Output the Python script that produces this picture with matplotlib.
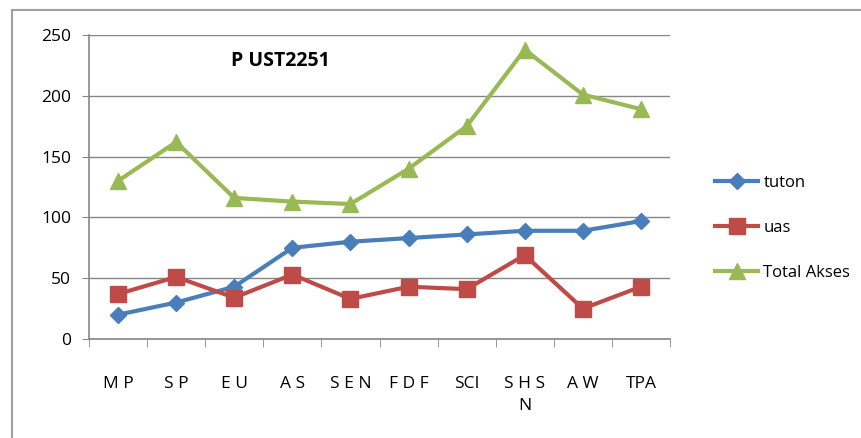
import matplotlib.pyplot as plt
from matplotlib.patches import Rectangle

categories = ['M P', 'S P', 'E U', 'A S', 'S E N', 'F D F', 'SCI', 'S H S\nN', 'A W', 'TPA']
tuton = [20, 30, 43, 75, 80, 83, 86, 89, 89, 97]
uas = [37, 51, 34, 53, 33, 43, 41, 69, 25, 43]
total_akses = [130, 162, 116, 113, 111, 140, 175, 238, 201, 189]

plt.rcParams['font.family'] = ['Open Sans', 'DejaVu Sans']

fig = plt.figure(figsize=(8.62, 4.38), dpi=100)
# outer chart border (cut off on the right and bottom like the screenshot)
fig.patches.append(Rectangle((12 / 862, -0.1), 1.2, 1 - 10 / 438 + 0.1,
                             transform=fig.transFigure, fill=False,
                             edgecolor='#a0a0a0', linewidth=1.5))

ax = fig.add_axes([89 / 862, 1 - 339 / 438, 581 / 862, 304 / 438])
x = range(len(categories))
ax.plot(x, tuton, color='#4a7ebb', linewidth=3, marker='D', markersize=8, label='tuton')
ax.plot(x, uas, color='#be4b48', linewidth=3, marker='s', markersize=11, label='uas')
ax.plot(x, total_akses, color='#98b954', linewidth=3, marker='^', markersize=11, label='Total Akses')

ax.set_xlim(-0.5, len(categories) - 0.5)
ax.set_ylim(0, 250)
ax.set_yticks([0, 50, 100, 150, 200, 250])
ax.set_xticks(x)
ax.set_xticklabels(categories, fontsize=12.5, linespacing=1.5)
ax.set_xticks([i - 0.5 for i in range(len(categories) + 1)], minor=True)
ax.tick_params(axis='x', which='major', length=0, pad=27)
ax.tick_params(axis='x', which='minor', length=6, color='#868686')
ax.tick_params(axis='y', labelsize=12.5, length=5, color='#868686', pad=8)
ax.yaxis.grid(True, color='#868686', linewidth=1)
ax.set_axisbelow(True)
for s in ['top', 'right']:
    ax.spines[s].set_visible(False)
for s in ['left', 'bottom']:
    ax.spines[s].set_color('#868686')
    ax.spines[s].set_linewidth(1.2)

ax.text(0.33, 0.915, 'P UST2251', transform=ax.transAxes, ha='center', va='center',
        fontsize=14, fontweight='bold')

fig.legend(loc='center left', bbox_to_anchor=(700 / 862, 1 - 228 / 438), frameon=False,
           fontsize=12, labelspacing=1.75, handlelength=2.6, handletextpad=0.3)

fig.savefig('out.png', dpi=100)
